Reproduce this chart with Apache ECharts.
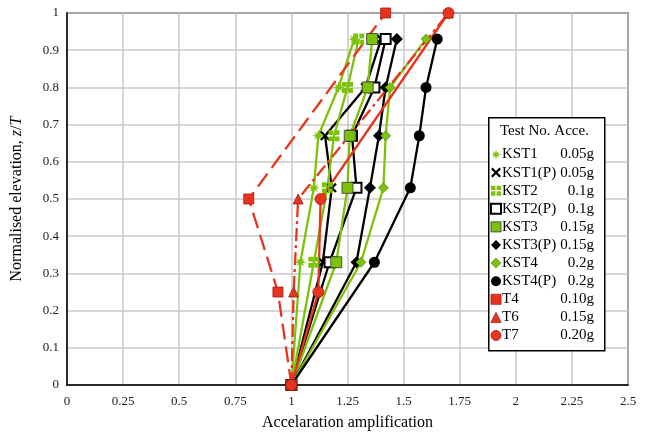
<!DOCTYPE html>
<html>
<head>
<meta charset="utf-8">
<script src="https://cdn.jsdelivr.net/npm/echarts@6/dist/echarts.min.js"></script>
<style>
	html,body{margin:0;padding:0;background:#fff;}
	#chart{width:653px;height:436px;}
</style>
</head>
<body>
<div id="chart"></div>
<script>
// elevation levels (z/T)
var kstLevels = [0, 0.33, 0.53, 0.67, 0.8, 0.93];
var tLevels = [0, 0.25, 0.5, 1];
// acceleration amplification
var kst1  = [1, 1.04, 1.10, 1.12, 1.21, 1.28];
var kst1p = [1, 1.14, 1.18, 1.15, 1.33, 1.40];
var kst2  = [1, 1.10, 1.16, 1.19, 1.25, 1.30];
var kst2p = [1, 1.17, 1.29, 1.27, 1.37, 1.42];
var kst3  = [1, 1.20, 1.25, 1.26, 1.34, 1.36];
var kst3p = [1, 1.29, 1.35, 1.39, 1.42, 1.47];
var kst4  = [1, 1.31, 1.41, 1.42, 1.44, 1.60];
var kst4p = [1, 1.37, 1.53, 1.57, 1.60, 1.65];
var t4 = [1, 0.94, 0.81, 1.42];
var t6 = [1, 1.01, 1.03, 1.70];
var t7 = [1, 1.12, 1.13, 1.70];
// legend names and base accelerations
var names = ['KST1','KST1(P)','KST2','KST2(P)','KST3','KST3(P)','KST4','KST4(P)','T4','T6','T7'];
var acce  = ['0.05g','0.05g','0.1g','0.1g','0.15g','0.15g','0.2g','0.2g','0.10g','0.15g','0.20g'];

var GREEN = '#7cc20a', BLACK = '#000', RED = '#e8341f';
var FONT = '"Liberation Serif", "Times New Roman", serif';

var STAR = 'path://M5,0 L6,3.4 L8.6,1.4 L7,4.2 L10,5 L7,5.8 L8.6,8.6 L6,6.6 L5,10 L4,6.6 L1.4,8.6 L3,5.8 L0,5 L3,4.2 L1.4,1.4 L4,3.4 Z';
var CROSS = 'path://M0,1.6 L1.6,0 L5,3.4 L8.4,0 L10,1.6 L6.6,5 L10,8.4 L8.4,10 L5,6.6 L1.6,10 L0,8.4 L3.4,5 Z';
var GRIDSQ = 'path://M0,0H4.4V4.4H0Z M5.6,0H10V4.4H5.6Z M0,5.6H4.4V10H0Z M5.6,5.6H10V10H5.6Z';

function pairs(xs, ys){
	var out = [];
	for (var i = 0; i < xs.length; i++) out.push([xs[i], ys[i]]);
	return out;
}

var styles = [
	{x: kst1,  y: kstLevels, c: GREEN, sym: STAR,   size: 12, item: {color: GREEN}},
	{x: kst1p, y: kstLevels, c: BLACK, sym: CROSS,  size: 10, item: {color: BLACK}},
	{x: kst2,  y: kstLevels, c: GREEN, sym: GRIDSQ, size: 11, item: {color: GREEN}},
	{x: kst2p, y: kstLevels, c: BLACK, sym: 'rect', size: 10, item: {color: '#fff', borderColor: BLACK, borderWidth: 2}},
	{x: kst3,  y: kstLevels, c: GREEN, sym: 'rect', size: 11, item: {color: GREEN, borderColor: '#333', borderWidth: 0.8}},
	{x: kst3p, y: kstLevels, c: BLACK, sym: 'diamond', size: 12, item: {color: BLACK}},
	{x: kst4,  y: kstLevels, c: GREEN, sym: 'diamond', size: 10, item: {color: GREEN, borderColor: '#4a7a00', borderWidth: 0.6}},
	{x: kst4p, y: kstLevels, c: BLACK, sym: 'circle', size: 11, item: {color: BLACK}},
	{x: t4, y: tLevels, c: RED, sym: 'rect', size: 10, item: {color: RED, borderColor: '#a01a0c', borderWidth: 0.8}, dash: [16, 7]},
	{x: t6, y: tLevels, c: RED, sym: 'triangle', size: 10, item: {color: RED, borderColor: '#a01a0c', borderWidth: 0.8}, dash: [13, 4, 3, 4]},
	{x: t7, y: tLevels, c: RED, sym: 'circle', size: 11, item: {color: RED, borderColor: '#a01a0c', borderWidth: 0.8}}
];

var series = styles.map(function(s, i){
	return {
		name: names[i],
		type: 'line',
		data: pairs(s.x, s.y),
		symbol: s.sym,
		symbolSize: s.size,
		itemStyle: s.item,
		lineStyle: {color: s.c, width: 2.3, type: s.dash || 'solid'},
		animation: false
	};
});

var legendData = styles.map(function(s, i){
	return {name: names[i], icon: s.sym, itemStyle: s.item};
});

var chart = echarts.init(document.getElementById('chart'));
chart.setOption({
	animation: false,
	grid: {left: 67, right: 25, top: 13, bottom: 49, show: true, borderColor: '#000', borderWidth: 1.5},
	xAxis: {
		type: 'value', min: 0, max: 2.5, interval: 0.25,
		name: 'Accelaration amplification', nameLocation: 'middle', nameGap: 30,
		nameTextStyle: {fontFamily: FONT, fontSize: 16, color: '#000'},
		axisLine: {show: true, lineStyle: {color: '#000', width: 1.5}},
		axisTick: {show: false},
		axisLabel: {fontFamily: FONT, fontSize: 13, color: '#222', margin: 10},
		splitLine: {show: true, lineStyle: {color: '#c8c8c8', width: 1.5}}
	},
	yAxis: {
		type: 'value', min: 0, max: 1, interval: 0.1,
		name: '{a|Normalised elevation, }{b|z}{a|/}{b|T}', nameLocation: 'middle', nameGap: 42,
		nameTextStyle: {
			fontFamily: FONT, fontSize: 16, color: '#000',
			rich: {
				a: {fontFamily: FONT, fontSize: 16, color: '#000'},
				b: {fontFamily: FONT, fontSize: 16, color: '#000', fontStyle: 'italic'}
			}
		},
		axisLine: {show: true, lineStyle: {color: '#000', width: 1.5}},
		axisTick: {show: false},
		axisLabel: {fontFamily: FONT, fontSize: 13, color: '#222', margin: 8},
		splitLine: {show: true, lineStyle: {color: '#c8c8c8', width: 1.5}}
	},
	graphic: [
		{type: 'rect', left: 488, top: 117, shape: {width: 116, height: 233},
			style: {fill: '#fff', stroke: '#000', lineWidth: 1.5}, z: 50},
		{type: 'text', left: 500, top: 124,
			style: {text: 'Test No. Acce.', font: '15px ' + FONT, fill: '#000'}, z: 51}
	],
	legend: {
		orient: 'vertical', left: 485, top: 142,
		itemWidth: 10, itemHeight: 10, itemGap: 3.1,
		z: 60,
		data: legendData,
		formatter: function(n){
			return '{n|' + n + '}{v|' + acce[names.indexOf(n)] + '}';
		},
		textStyle: {
			fontFamily: FONT, fontSize: 15, color: '#000', padding: [0, 0, 0, -4],
			rich: {
				n: {fontFamily: FONT, fontSize: 15, color: '#000', width: 57, lineHeight: 15},
				v: {fontFamily: FONT, fontSize: 15, color: '#000', width: 35, align: 'right', lineHeight: 15}
			}
		}
	},
	series: series
});
</script>
</body>
</html>
